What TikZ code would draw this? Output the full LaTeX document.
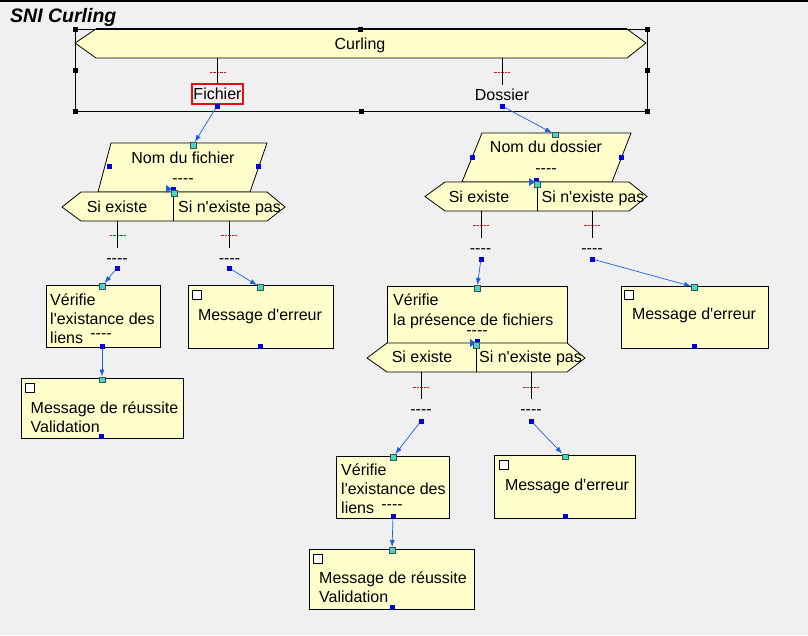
\documentclass[tikz,border=0pt]{standalone}
\usepackage{fontspec}
\setmainfont{Liberation Sans}
\usetikzlibrary{arrows.meta}
\definecolor{fond}{HTML}{F0F0F0}
\definecolor{jaune}{HTML}{FFFFCC}
\definecolor{bleu}{HTML}{1A5FE0}
\definecolor{poignee}{HTML}{0000DD}
\definecolor{turquoise}{HTML}{40D8C8}
\definecolor{rouge}{HTML}{E01010}
\newcommand{\tirets}{-\kern0pt-\kern0pt-\kern0pt-}
\newcommand{\apos}{\textquotesingle}
\begin{document}
\begin{tikzpicture}[x=1pt,y=-1pt]
          \tikzstyle{txt} = [inner sep=0pt, anchor=base, font=\fontsize{16}{19}\selectfont]
          \tikzstyle{ltxt} = [txt, anchor=base west]
          \tikzstyle{forme} = [draw, fill=jaune, line width=0.8pt]
          \tikzstyle{boite} = [forme, rectangle, anchor=north west, inner sep=0pt]
          \tikzstyle{hnd} = [fill=poignee, inner sep=0pt, minimum size=5pt]
          \tikzstyle{cyn} = [draw=black!70, fill=turquoise, line width=0.4pt, inner sep=0pt, minimum size=5.5pt]
          \tikzstyle{sel} = [fill=black, inner sep=0pt, minimum size=5pt]
          \tikzstyle{coche} = [draw, fill=white, line width=0.6pt, inner sep=0pt, minimum size=8.5pt, anchor=north west]
          \tikzstyle{arr} = [draw=bleu, line width=0.7pt, -{Latex[length=7pt,width=5pt]}]
          \tikzstyle{marque} = [draw=rouge, dash pattern=on 2.5pt off 1pt, line width=0.9pt]
        \fill[fond] (0,0) rectangle (808,635);
        \useasboundingbox (0,0) rectangle (808,635);
        \draw[line width=1.5pt] (0,0.75) -- (808,0.75);
        \node[inner sep=0pt, anchor=base west, font=\fontsize{19.5}{22}\selectfont\bfseries\itshape] (titre) at (10,22) {SNI Curling};
        % marques rouges
        \foreach \x/\y in {217.5/72, 502/72, 117.5/235, 229/235, 481/225, 592/225, 421/387, 531/387}
          \draw[marque] (\x-8,\y) -- (\x+8,\y);
        % racine
        \draw[line width=0.8pt] (75,29) rectangle (647,111);
        \draw[forme] (75,43) -- (96,29) -- (627,29) -- (646,43) -- (627,58) -- (96,58) -- cycle;
        \draw[line width=2pt] (96,29) -- (627,29);
        \node[txt] (curling) at (360,49) {Curling};
        \foreach \i/\p in {1/{(75,29)}, 2/{(360,29)}, 3/{(647,29)}, 4/{(75,70)}, 5/{(647,70)}, 6/{(75,111)}, 7/{(361,111)}, 8/{(647,111)}}
          \node[sel] (s\i) at \p {};
        \node[draw=rouge, line width=1.6pt, inner sep=0pt, minimum width=51pt, minimum height=20pt, font=\fontsize{16}{19}\selectfont] (fichier) at (217.5,94) {Fichier};
        \node[txt] (dossier) at (502,100) {Dossier};
        \draw (217.5,58) -- (fichier.north);
        \draw (502,58) -- (502,85);
        \node[hnd] (hf) at (217,106) {};
        \node[hnd] (hd) at (502,106) {};
        % branche fichier
        \draw[forme] (111,143) -- (267,143) -- (250,192) -- (98,192) -- cycle;
        \draw[forme] (62,207) -- (81,192) -- (267,192) -- (285,207) -- (267,221) -- (81,221) -- cycle;
        \draw (173,192) -- (173,221);
        \node[txt] (nf) at (183,163) {Nom du fichier};
        \node[txt] (nf0) at (183,183) {\tirets};
        \node[txt] (se1) at (117,212) {Si existe};
        \node[txt] (sn1) at (229.5,212) {Si n\apos existe pas};
        \draw (117.5,221) -- (117.5,248);
        \draw (229,221) -- (229,248);
        \node[txt] (t1) at (117,263) {\tirets};
        \node[txt] (t2) at (229.5,263) {\tirets};
        \node[hnd] at (109,166) (pf1) {};
        \node[hnd] at (258,166) (pf2) {};
        \fill[bleu] (166,185) -- (172,189) -- (166,193) -- cycle;
        \node[hnd] (jf1) at (173,189) {};
        \node[cyn] (jf2) at (174,193) {};
        \node[cyn] (c1) at (193,145) {};
        \node[hnd] (h3) at (117,268) {};
        \node[hnd] (h4) at (229,268) {};
        \node[boite, minimum width=114pt, minimum height=62pt] (v1) at (45.5,285) {};
        \node[ltxt] at (50,305) (v1a) {Vérifie};
        \node[ltxt] at (50,324) (v1b) {l\apos existance des};
        \node[ltxt] at (50,343) (v1c) {liens};
        \node[txt] at (101,338) (v1d) {\tirets};
        \node[boite, minimum width=145pt, minimum height=63pt] (e1) at (187.5,285) {};
        \node[coche] (k1) at (192,290) {};
        \node[txt] (e1a) at (260,320) {Message d\apos erreur};
        \node[boite, minimum width=162pt, minimum height=60pt] (r1) at (20.5,378) {};
        \node[coche] (k2) at (25,383) {};
        \node[ltxt] at (30.5,413) (r1a) {Message de réussite};
        \node[ltxt] at (30.5,432) (r1b) {Validation};
        \node[cyn] (c3) at (102,286) {};
        \node[cyn] (c4) at (260,287) {};
        \node[hnd] (h5) at (102,346) {};
        \node[cyn] (c5) at (102,379.5) {};
        \node[hnd] (b1) at (260,346) {};
        \node[hnd] (b2) at (101.5,436) {};
        % branche dossier
        \draw[forme] (482,133) -- (631,133) -- (612,182) -- (462,182) -- cycle;
        \draw[forme] (425,196.5) -- (445,182) -- (629,182) -- (647,196.5) -- (629,211) -- (445,211) -- cycle;
        \draw (537,182) -- (537,211);
        \node[txt] (nd) at (546,152) {Nom du dossier};
        \node[txt] (nd0) at (546,173) {\tirets};
        \node[txt] (se2) at (479,202) {Si existe};
        \node[txt] (sn2) at (593,202) {Si n\apos existe pas};
        \draw (481,211) -- (481,238);
        \draw (592,211) -- (592,238);
        \node[txt] (t3) at (480.5,253) {\tirets};
        \node[txt] (t4) at (592,253) {\tirets};
        \node[hnd] (pd1) at (472,157) {};
        \node[hnd] (pd2) at (621,157) {};
        \fill[bleu] (529,178) -- (535,182) -- (529,186) -- cycle;
        \node[hnd] (jd1) at (536,180) {};
        \node[cyn] (jd2) at (537,184) {};
        \node[cyn] (c2) at (555,134.5) {};
        \node[hnd] (h6) at (481,259) {};
        \node[hnd] (h7) at (592,259) {};
        \node[boite, minimum width=180pt, minimum height=57pt] (v2) at (387,286) {};
        \draw[forme] (367,358) -- (387,343) -- (567,343) -- (585,358) -- (567,372) -- (387,372) -- cycle;
        \draw (476,343) -- (476,372);
        \node[ltxt] at (393,305) (v2a) {Vérifie};
        \node[ltxt] at (393,325) (v2b) {la présence de fichiers};
        \node[txt] at (477,335) (v2c) {\tirets};
        \node[txt] (se3) at (422,362) {Si existe};
        \node[txt] (sn3) at (530.5,362) {Si n\apos existe pas};
        \fill[bleu] (470,339) -- (476,343) -- (470,347) -- cycle;
        \node[hnd] (jv1) at (477,341) {};
        \node[cyn] (jv2) at (476,345) {};
        \draw (421,372) -- (421,399);
        \draw (531,372) -- (531,399);
        \node[txt] (t5) at (421,414) {\tirets};
        \node[txt] (t6) at (531,414) {\tirets};
        \node[hnd] (h8) at (421,421) {};
        \node[hnd] (h9) at (531,421) {};
        \node[boite, minimum width=147pt, minimum height=62pt] (e2) at (621,286) {};
        \node[coche] (k3) at (624,290) {};
        \node[txt] (e2a) at (694,319) {Message d\apos erreur};
        \node[boite, minimum width=113pt, minimum height=62pt] (v3) at (336,456) {};
        \node[ltxt] at (341,475) (v3a) {Vérifie};
        \node[ltxt] at (341,494) (v3b) {l\apos existance des};
        \node[ltxt] at (341,513) (v3c) {liens};
        \node[txt] at (392,509) (v3d) {\tirets};
        \node[boite, minimum width=141pt, minimum height=63pt] (e3) at (494,455) {};
        \node[coche] (k4) at (499,460) {};
        \node[txt] (e3a) at (567,490) {Message d\apos erreur};
        \node[boite, minimum width=165pt, minimum height=60pt] (r2) at (309,549) {};
        \node[coche] (k5) at (313,554) {};
        \node[ltxt] at (319,583) (r2a) {Message de réussite};
        \node[ltxt] at (319,602) (r2b) {Validation};
        \node[cyn] (c6) at (477,288) {};
        \node[cyn] (c7) at (694,287) {};
        \node[cyn] (c8) at (393,457) {};
        \node[cyn] (c9) at (565,456.5) {};
        \node[hnd] (h10) at (393,516) {};
        \node[cyn] (c10) at (392,550) {};
        \node[hnd] (b3) at (694,346) {};
        \node[hnd] (b4) at (565,516) {};
        \node[hnd] (b5) at (392,607) {};
        \begin{scope}
          \draw[arr] (hf) -- (c1);
          \draw[arr] (hd) -- (c2);
          \draw[arr] (h3) -- (c3);
          \draw[arr] (h4) -- (c4);
          \draw[arr] (h5) -- (c5);
          \draw[arr] (h6) -- (c6);
          \draw[arr] (h7) -- (c7);
          \draw[arr] (h8) -- (c8);
          \draw[arr] (h9) -- (c9);
          \draw[arr] (h10) -- (c10);
        \end{scope}
      \end{tikzpicture}
\end{document}
